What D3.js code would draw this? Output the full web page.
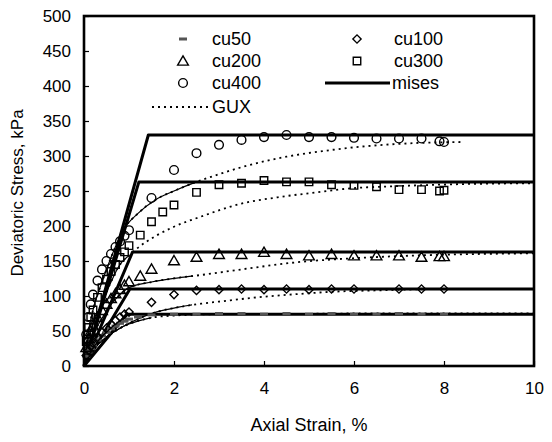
<!DOCTYPE html>
<html>
<head>
<meta charset="utf-8">
<script src="https://cdn.jsdelivr.net/npm/d3@7"></script>
<style>
  body { margin: 0; background: #fff; }
  text { font-family: "Liberation Sans", Arial, sans-serif; fill: #000; }
</style>
</head>
<body>
<div id="chart"></div>
<script>
// axis ticks
var xTicks = [0, 2, 4, 6, 8, 10];
var yTicks = [0, 50, 100, 150, 200, 250, 300, 350, 400, 450, 500];

// von Mises: yield stress and strain at yield
var misesYield = [74, 110, 163, 263, 330];
var misesElbow = [0.95, 1.02, 1.08, 1.22, 1.43];

// test points (strain %, stress kPa)
var cu50Strain = [0.05, 0.1, 0.15, 0.2, 0.3, 0.4, 0.5, 0.6, 0.7, 0.8, 0.9, 1.0, 1.2, 1.5, 2.0, 2.5, 3.0, 3.5, 4.0, 4.5, 5.0, 5.5, 6.0, 6.5, 7.0, 7.5, 8.0];
var cu50Value  = [14, 20, 25, 30, 37, 43, 48, 53, 57, 61, 64, 67, 70, 73, 74, 74, 75, 75, 74, 75, 74, 75, 74, 74, 75, 74, 74];

var cu100Strain = [0.05, 0.1, 0.15, 0.2, 0.3, 0.4, 0.5, 0.6, 0.7, 0.8, 0.9, 1.0, 1.5, 2.0, 2.5, 3.0, 3.5, 4.0, 4.5, 5.0, 5.5, 6.0, 7.0, 7.5, 8.0];
var cu100Value  = [15, 22, 28, 33, 41, 48, 54, 60, 65, 70, 74, 77, 91, 102, 108, 109, 110, 109, 110, 109, 110, 110, 110, 110, 110];

var cu200Strain = [0.05, 0.1, 0.15, 0.2, 0.3, 0.4, 0.5, 0.6, 0.7, 0.8, 0.9, 1.0, 1.25, 1.5, 2.0, 2.5, 3.0, 3.5, 4.0, 4.5, 5.0, 5.5, 6.0, 6.5, 7.0, 7.5, 7.9, 8.0];
var cu200Value  = [25, 38, 48, 56, 68, 78, 87, 95, 102, 108, 114, 119, 127, 137, 149, 154, 158, 158, 161, 158, 156, 158, 156, 156, 156, 154, 155, 155];

var cu300Strain = [0.05, 0.1, 0.15, 0.2, 0.3, 0.4, 0.5, 0.6, 0.7, 0.8, 0.9, 1.0, 1.25, 1.5, 1.75, 2.0, 2.5, 3.0, 3.5, 4.0, 4.5, 5.0, 5.5, 6.0, 6.5, 7.0, 7.5, 7.9, 8.0];
var cu300Value  = [35, 55, 70, 80, 98, 112, 124, 135, 145, 155, 163, 172, 187, 206, 220, 230, 248, 259, 261, 265, 263, 263, 259, 258, 256, 252, 252, 250, 251];

var cu400Strain = [0.05, 0.1, 0.15, 0.2, 0.3, 0.4, 0.5, 0.6, 0.7, 0.8, 0.9, 1.0, 1.5, 2.0, 2.5, 3.0, 3.5, 4.0, 4.5, 5.0, 5.5, 6.0, 6.5, 7.0, 7.5, 7.9, 8.0];
var cu400Value  = [45, 70, 88, 102, 122, 138, 150, 160, 170, 178, 186, 194, 240, 280, 304, 316, 323, 327, 330, 327, 327, 326, 325, 325, 325, 321, 320];

// GUX model curves
var gux50Strain = [0, 0.1, 0.2, 0.4, 0.6, 0.8, 1.0, 1.3, 1.6, 2.0, 3.0, 4.0, 6.0, 8.0, 10];
var gux50Value  = [0, 15, 24, 36, 46, 54, 60, 66, 70, 72, 74, 74, 75, 75, 75];
var gux100Strain = [0, 0.1, 0.2, 0.4, 0.6, 0.8, 1.0, 1.6, 2.1, 2.6, 3.0, 4.0, 4.8, 5.5, 6.5, 8.0, 10];
var gux100Value  = [0, 16, 24, 36, 46, 54, 61, 77, 84, 89, 92, 99, 103, 106, 108, 110, 110];
var gux200Strain = [0, 0.1, 0.2, 0.4, 0.6, 0.8, 1.0, 1.5, 2.1, 2.6, 3.5, 4.7, 6.0, 7.0, 8.0, 10];
var gux200Value  = [0, 30, 45, 68, 88, 102, 112, 120, 126, 130, 138, 148, 154, 157, 159, 161];
var gux300Strain = [0, 0.1, 0.2, 0.4, 0.6, 0.8, 1.0, 1.18, 1.6, 2.0, 2.58, 3.5, 4.3, 5.3, 5.8, 7.0, 8.5, 10];
var gux300Value  = [0, 40, 60, 90, 120, 145, 158, 168, 186, 199, 213, 232, 241, 249, 253, 257, 260, 261];
var gux400Strain = [0, 0.1, 0.2, 0.4, 0.6, 0.87, 1.2, 1.6, 2.0, 2.5, 3.0, 3.5, 4.5, 5.3, 6.1, 7.2, 8.4];
var gux400Value  = [0, 50, 80, 120, 155, 194, 218, 238, 250, 263, 274, 284, 299, 307, 313, 318, 320];

// in the print the start of each GUX curve looks solid, up to this strain
var guxSolidTo = [1.5, 2.4, 2.4, 1.0, 2.5];

var W = 552, H = 442;
var margin = { top: 16, right: 18, bottom: 76, left: 84 },
  width = W - margin.left - margin.right,
  height = H - margin.top - margin.bottom;

var root = d3.select("#chart").append("svg")
  .attr("width", W).attr("height", H);
var svg = root.append("g")
  .attr("transform", "translate(" + margin.left + "," + margin.top + ")");

var x = d3.scaleLinear().domain([0, 10]).range([0, width]);
var y = d3.scaleLinear().domain([0, 500]).range([height, 0]);

function pairs(xs, ys) { return xs.map(function (d, i) { return [d, ys[i]]; }); }

var line = d3.line()
  .x(function (d) { return x(d[0]); })
  .y(function (d) { return y(d[1]); });
var curve = d3.line()
  .x(function (d) { return x(d[0]); })
  .y(function (d) { return y(d[1]); })
  .curve(d3.curveMonotoneX);

// axes
var yAxis = svg.append("g")
  .call(d3.axisLeft(y).tickValues(yTicks).tickSize(-5).tickPadding(13));
var xAxis = svg.append("g")
  .attr("transform", "translate(0," + height + ")")
  .call(d3.axisBottom(x).tickValues(xTicks).tickSize(-5).tickPadding(16));
[xAxis, yAxis].forEach(function (a) {
  a.select(".domain").remove();
  a.selectAll("line").attr("stroke", "#000").attr("stroke-width", 1.2);
  a.selectAll("text").style("font-size", "17px").attr("fill", "#000");
});

// GUX curves
var guxData = [
  pairs(gux50Strain, gux50Value), pairs(gux100Strain, gux100Value),
  pairs(gux200Strain, gux200Value), pairs(gux300Strain, gux300Value),
  pairs(gux400Strain, gux400Value)
];
var defs = root.append("defs");
guxData.forEach(function (d, i) {
  svg.append("path").datum(d)
    .attr("d", curve)
    .attr("fill", "none")
    .attr("stroke", "#000")
    .attr("stroke-width", 1.8)
    .attr("stroke-dasharray", "2,4");
  defs.append("clipPath").attr("id", "gs" + i)
    .append("rect").attr("x", -5).attr("y", -5)
    .attr("width", x(guxSolidTo[i]) + 5).attr("height", height + 10);
  svg.append("path").datum(d)
    .attr("d", curve)
    .attr("clip-path", "url(#gs" + i + ")")
    .attr("fill", "none")
    .attr("stroke", "#000")
    .attr("stroke-width", 1.2);
});

// von Mises lines
misesYield.forEach(function (cu, i) {
  svg.append("path").datum([[0, 0], [misesElbow[i], cu], [10, cu]])
    .attr("d", line)
    .attr("fill", "none")
    .attr("stroke", "#000")
    .attr("stroke-width", 3)
    .attr("stroke-linejoin", "round");
});

// marker shapes
var sym = {
  circle: d3.symbol().type(d3.symbolCircle).size(60),
  square: d3.symbol().type(d3.symbolSquare).size(56),
  triangle: d3.symbol().type(d3.symbolTriangle).size(50),
  diamond: d3.symbol().type(d3.symbolSquare).size(34)
};

function drawDash(g, px, py) {
  g.append("rect").attr("x", px - 4).attr("y", py - 1.5)
    .attr("width", 8).attr("height", 3).attr("fill", "#555");
}
function drawSym(g, type, px, py) {
  g.append("path").attr("d", sym[type]())
    .attr("transform", "translate(" + px + "," + py + ")" + (type === "diamond" ? " rotate(45)" : ""))
    .attr("fill", "none").attr("stroke", "#000").attr("stroke-width", 1.4);
}

var pts = svg.append("g");
pairs(cu50Strain, cu50Value).forEach(function (d) { drawDash(pts, x(d[0]), y(d[1])); });
pairs(cu100Strain, cu100Value).forEach(function (d) { drawSym(pts, "diamond", x(d[0]), y(d[1])); });
pairs(cu200Strain, cu200Value).forEach(function (d) { drawSym(pts, "triangle", x(d[0]), y(d[1])); });
pairs(cu300Strain, cu300Value).forEach(function (d) { drawSym(pts, "square", x(d[0]), y(d[1])); });
pairs(cu400Strain, cu400Value).forEach(function (d) { drawSym(pts, "circle", x(d[0]), y(d[1])); });

// frame
svg.append("rect")
  .attr("width", width).attr("height", height)
  .attr("fill", "none").attr("stroke", "#000").attr("stroke-width", 2.6);

// legend
var leg = root.append("g");
var legFont = "18px";
drawDash(leg, 183, 39);
leg.append("text").attr("x", 212).attr("y", 45).text("cu50").style("font-size", legFont);
drawSym(leg, "diamond", 357, 39);
leg.append("text").attr("x", 394).attr("y", 45).text("cu100").style("font-size", legFont);
drawSym(leg, "triangle", 183, 62);
leg.append("text").attr("x", 212).attr("y", 67).text("cu200").style("font-size", legFont);
drawSym(leg, "square", 357, 61);
leg.append("text").attr("x", 394).attr("y", 67).text("cu300").style("font-size", legFont);
drawSym(leg, "circle", 183, 83);
leg.append("text").attr("x", 212).attr("y", 89).text("cu400").style("font-size", legFont);
leg.append("line").attr("x1", 325).attr("x2", 390).attr("y1", 83).attr("y2", 83)
  .attr("stroke", "#000").attr("stroke-width", 3);
leg.append("text").attr("x", 392).attr("y", 89).text("mises").style("font-size", legFont);
leg.append("line").attr("x1", 152).attr("x2", 208).attr("y1", 107).attr("y2", 107)
  .attr("stroke", "#000").attr("stroke-width", 1.8).attr("stroke-dasharray", "2,4");
leg.append("text").attr("x", 212).attr("y", 113).text("GUX").style("font-size", legFont);

// axis titles
svg.append("text")
  .attr("x", width / 2).attr("y", height + 65)
  .attr("text-anchor", "middle")
  .style("font-size", "18px")
  .text("Axial Strain, %");
svg.append("text")
  .attr("transform", "translate(" + (-61) + "," + (height / 2 + 2) + ") rotate(-90)")
  .attr("text-anchor", "middle")
  .style("font-size", "17px")
  .text("Deviatoric Stress, kPa");
</script>
</body>
</html>
